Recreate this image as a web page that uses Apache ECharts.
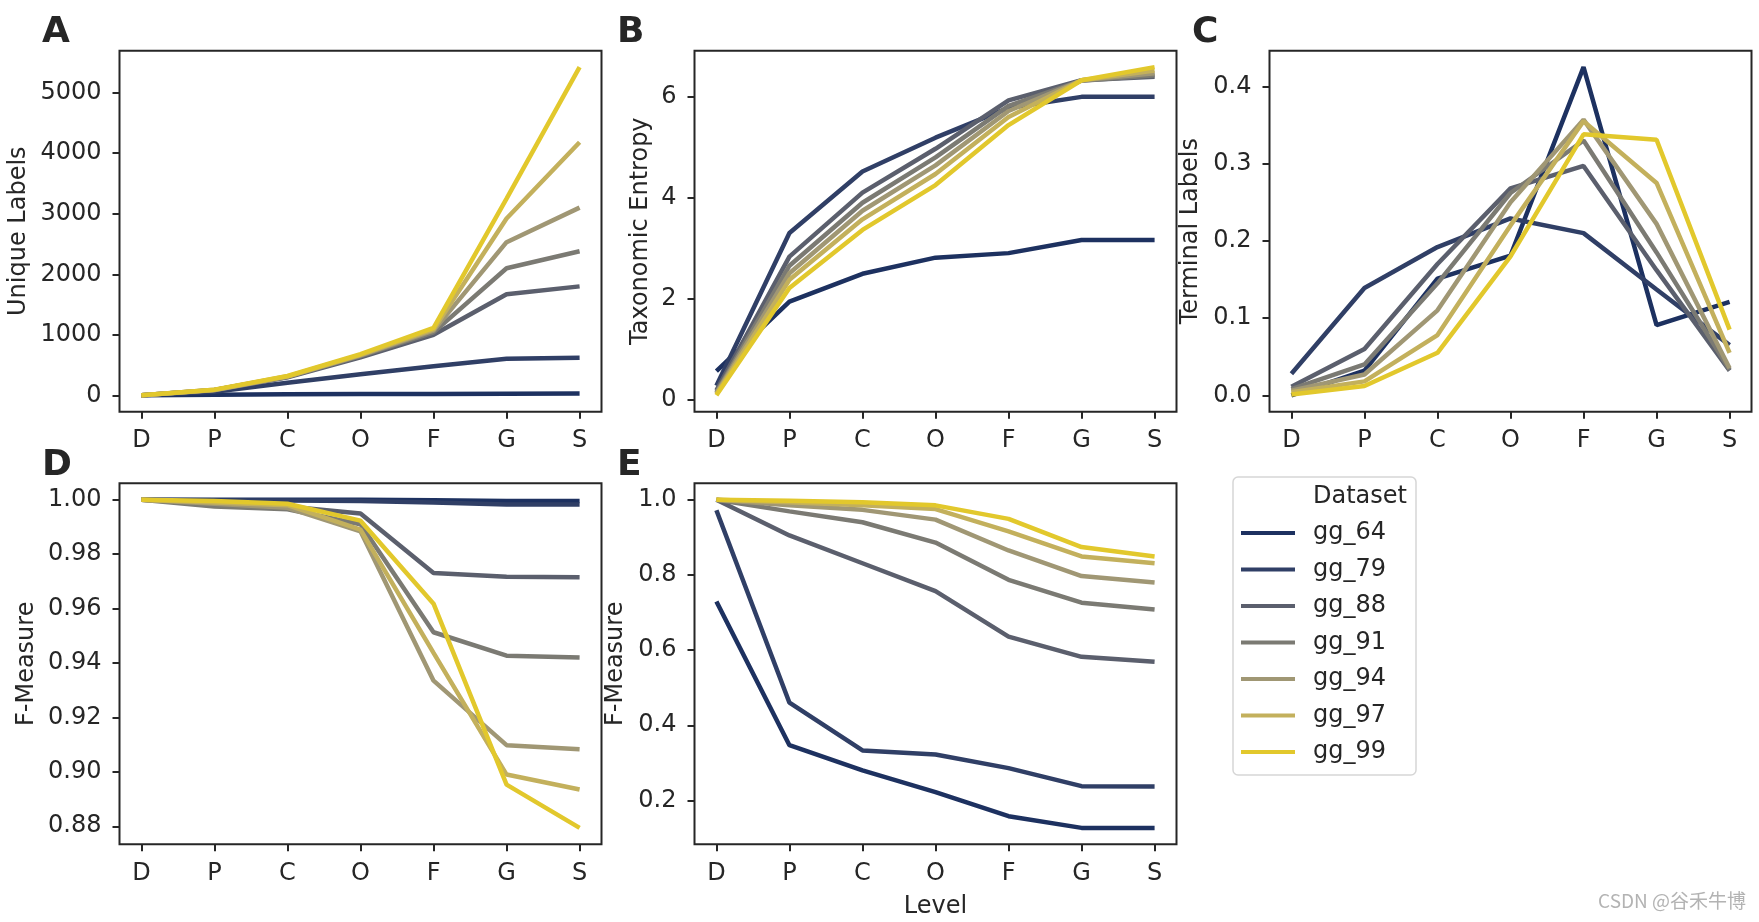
<!DOCTYPE html>
<html><head><meta charset="utf-8">
<script src="https://cdn.jsdelivr.net/npm/echarts@6/dist/echarts.min.js"></script>
<style>html,body{margin:0;padding:0;background:#fff}#c{width:1759px;height:922px}</style>
</head><body><div id="c"></div>
<script>
// ---- data ----
const levels = ['D', 'P', 'C', 'O', 'F', 'G', 'S'];
const datasets = ['gg_64', 'gg_79', 'gg_88', 'gg_91', 'gg_94', 'gg_97', 'gg_99'];
const colors = ['#1d3160', '#303f66', '#5b5f6d', '#7b7a73', '#a09774', '#c3b05c', '#e2c82c'];

// A: Unique Labels (rows follow datasets order)
const uniqueLabels = [
  [2, 12, 18, 22, 25, 28, 30],
  [2, 60, 210, 350, 480, 605, 620],
  [2, 85, 300, 630, 1000, 1670, 1800],
  [2, 88, 305, 650, 1040, 2100, 2380],
  [2, 90, 310, 660, 1070, 2530, 3100],
  [2, 92, 315, 670, 1090, 2920, 4180],
  [2, 95, 320, 680, 1115, 3250, 5420]
];
// B: Taxonomic Entropy
const taxonomicEntropy = [
  [0.56, 1.94, 2.49, 2.81, 2.90, 3.16, 3.16],
  [0.27, 3.30, 4.52, 5.19, 5.78, 6.00, 6.00],
  [0.18, 2.83, 4.10, 4.97, 5.93, 6.33, 6.40],
  [0.14, 2.65, 3.90, 4.80, 5.82, 6.32, 6.43],
  [0.12, 2.50, 3.74, 4.64, 5.72, 6.33, 6.47],
  [0.10, 2.37, 3.57, 4.47, 5.60, 6.33, 6.52],
  [0.08, 2.21, 3.36, 4.25, 5.44, 6.33, 6.59]
];
// C: Terminal Labels
const terminalLabels = [
  [0.000, 0.032, 0.151, 0.181, 0.425, 0.091, 0.121],
  [0.028, 0.139, 0.192, 0.229, 0.210, 0.137, 0.065],
  [0.011, 0.060, 0.170, 0.268, 0.297, 0.162, 0.032],
  [0.008, 0.040, 0.145, 0.262, 0.330, 0.185, 0.033],
  [0.006, 0.027, 0.110, 0.250, 0.357, 0.222, 0.035],
  [0.004, 0.018, 0.078, 0.220, 0.355, 0.275, 0.055],
  [0.001, 0.012, 0.055, 0.180, 0.338, 0.331, 0.085]
];
// D: F-Measure
const fMeasureD = [
  [1.0000, 1.0000, 1.0000, 1.0000, 0.9998, 0.9995, 0.9995],
  [1.0000, 0.9998, 0.9997, 0.9995, 0.9990, 0.9982, 0.9982],
  [1.0000, 0.9985, 0.9975, 0.9949, 0.9731, 0.9717, 0.9715],
  [1.0000, 0.9975, 0.9965, 0.9910, 0.9513, 0.9427, 0.9420],
  [1.0000, 0.9985, 0.9970, 0.9884, 0.9335, 0.9098, 0.9083],
  [1.0000, 0.9990, 0.9980, 0.9890, 0.9437, 0.8990, 0.8935],
  [1.0000, 0.9995, 0.9985, 0.9923, 0.9618, 0.8953, 0.8794]
];
// E: F-Measure
const fMeasureE = [
  [0.729, 0.347, 0.280, 0.222, 0.158, 0.127, 0.127],
  [0.972, 0.460, 0.333, 0.322, 0.286, 0.238, 0.237],
  [1.000, 0.905, 0.831, 0.757, 0.636, 0.582, 0.569],
  [1.000, 0.969, 0.940, 0.886, 0.787, 0.726, 0.708],
  [1.000, 0.985, 0.973, 0.947, 0.865, 0.797, 0.780],
  [1.000, 0.993, 0.985, 0.975, 0.916, 0.849, 0.831],
  [1.000, 0.997, 0.993, 0.985, 0.949, 0.874, 0.849]
];
const ticksA = [0, 1000, 2000, 3000, 4000, 5000];
const ticksB = [0, 2, 4, 6];
const ticksC = [0, 0.1, 0.2, 0.3, 0.4];
const ticksD = [0.88, 0.90, 0.92, 0.94, 0.96, 0.98, 1.00];
const ticksE = [0.2, 0.4, 0.6, 0.8, 1.0];
const xTicks = [0, 1, 2, 3, 4, 5, 6];

// ---- layout ----
const FONT = 'DejaVu Sans';
const TXT = '#262626';
const panels = [
  { vals: uniqueLabels, ticks: ticksA, dec: 0, name: 'Unique Labels', gap: 89, left: 119.5, top: 50.7, letter: 'A' },
  { vals: taxonomicEntropy, ticks: ticksB, dec: 0, name: 'Taxonomic Entropy', gap: 41.5, left: 694.5, top: 50.7, letter: 'B' },
  { vals: terminalLabels, ticks: ticksC, dec: 1, name: 'Terminal Labels', gap: 66.5, left: 1269.5, top: 50.7, letter: 'C' },
  { vals: fMeasureD, ticks: ticksD, dec: 2, name: 'F-Measure', gap: 81, left: 119.5, top: 483.3, letter: 'D' },
  { vals: fMeasureE, ticks: ticksE, dec: 1, name: 'F-Measure', gap: 66.5, left: 694.5, top: 483.3, letter: 'E', xName: 'Level' }
];
const W = 482, H = 361;

const grid = [], xAxis = [], yAxis = [], series = [], graphic = [];
panels.forEach((p, i) => {
  grid.push({ left: p.left, top: p.top, width: W, height: H, show: true, borderColor: TXT, borderWidth: 2, backgroundColor: 'transparent' });
  let mn = Infinity, mx = -Infinity;
  p.vals.forEach(r => r.forEach(v => { mn = Math.min(mn, v); mx = Math.max(mx, v); }));
  const pad = 0.05 * (mx - mn);
  xAxis.push({
    type: 'value', gridIndex: i, min: -0.3, max: 6.3,
    axisLine: { show: false, onZero: false }, splitLine: { show: false },
    axisTick: { show: true, length: 7, customValues: xTicks, lineStyle: { color: TXT, width: 2 } },
    axisLabel: { customValues: xTicks, margin: 17, fontSize: 24, color: TXT, fontFamily: FONT, formatter: v => levels[Math.round(v)] },
    name: p.xName || '', nameLocation: 'middle', nameGap: 50,
    nameTextStyle: { fontSize: 24, color: TXT, fontFamily: FONT }
  });
  yAxis.push({
    type: 'value', gridIndex: i, min: mn - pad, max: mx + pad,
    axisLine: { show: false, onZero: false }, splitLine: { show: false },
    axisTick: { show: true, length: 7, customValues: p.ticks, lineStyle: { color: TXT, width: 2 } },
    axisLabel: { customValues: p.ticks, margin: 18, fontSize: 24, color: TXT, fontFamily: FONT, formatter: v => v.toFixed(p.dec) },
    name: p.name, nameLocation: 'middle', nameGap: p.gap,
    nameTextStyle: { fontSize: 24, color: TXT, fontFamily: FONT }
  });
  p.vals.forEach((row, k) => {
    series.push({
      type: 'line', name: datasets[k], xAxisIndex: i, yAxisIndex: i,
      data: row.map((v, j) => [xTicks[j], v]),
      showSymbol: false, symbol: 'none', smooth: false,
      lineStyle: { color: colors[k], width: 4.5 }, itemStyle: { color: colors[k] },
      z: 2 + k
    });
  });
  graphic.push({
    type: 'text', left: p.left - 77.5, top: (i < 3 ? 32.5 : 466) - 18, z: 100,
    style: { text: p.letter, font: 'bold 36px "DejaVu Sans"', fill: TXT }
  });
});

graphic.push({
  type: 'text', left: 1313, top: 485, z: 100, zlevel: 1,
  style: { text: 'Dataset', font: '24px "DejaVu Sans"', fill: TXT }
});
graphic.push({
  type: 'text', right: 13, top: 891, z: 100,
  style: { text: 'CSDN @谷禾牛博', font: '19px "Noto Sans CJK SC"', fill: '#b3b3b3' }
});

const chart = echarts.init(document.getElementById('c'));
chart.setOption({
  animation: false,
  backgroundColor: '#ffffff',
  grid, xAxis, yAxis, series, graphic,
  legend: {
    data: datasets, orient: 'vertical', left: 1233, top: 477,
    padding: [44, 30, 11, 8], itemGap: 12.5, itemWidth: 54, itemHeight: 4, icon: 'rect',
    borderColor: '#d6d6d6', borderWidth: 1.5, borderRadius: 5, backgroundColor: '#fff',
    textStyle: { fontSize: 24, color: TXT, fontFamily: FONT, lineHeight: 24, padding: [0, 0, 0, 13] }
  }
});
</script></body></html>
